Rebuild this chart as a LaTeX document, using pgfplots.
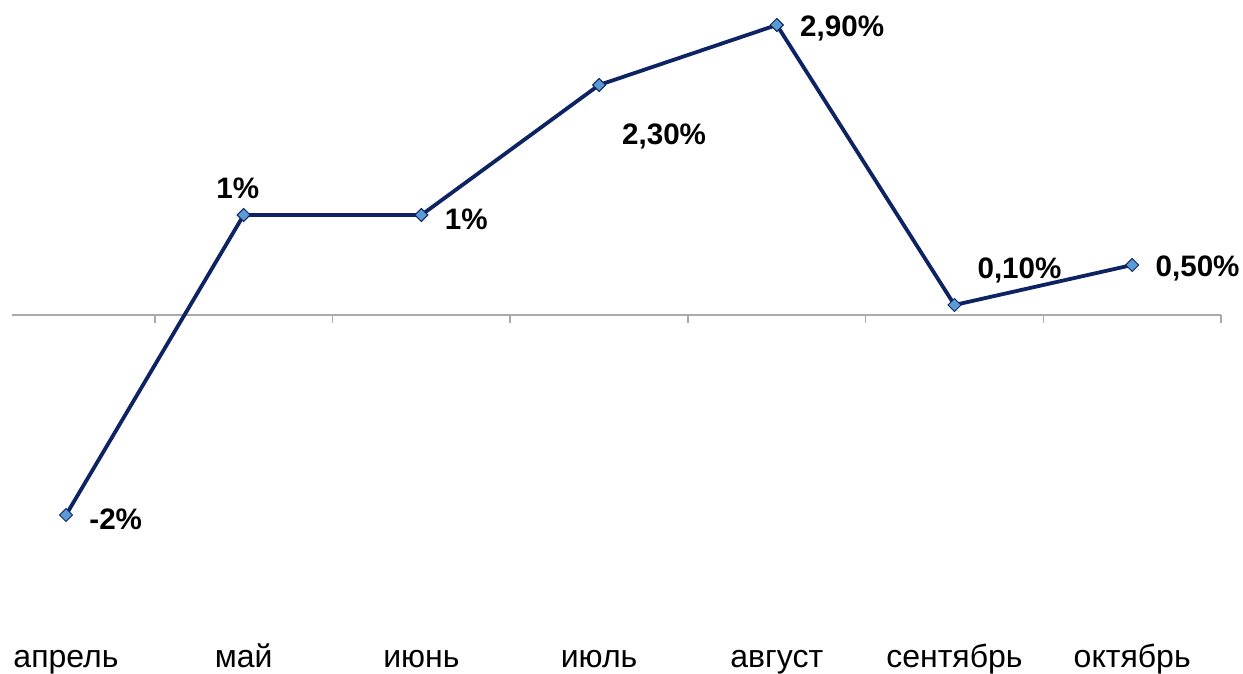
\documentclass[border=0pt]{standalone}
\usepackage{pgfplots}
\pgfplotsset{compat=1.18}
\usepackage{fontspec}
\setmainfont{Liberation Sans}
\definecolor{lineblue}{RGB}{14,36,98}
\definecolor{markfill}{RGB}{91,155,213}
\definecolor{axgray}{RGB}{170,170,170}
\begin{document}
\begin{tikzpicture}
\begin{axis}[
  scale only axis,
  width=621.5pt, height=337pt,
  xmin=-0.3714, xmax=6.6235,
  ymin=-3.59, ymax=3.15,
  hide axis,
  clip=false,
]
% zero line and ticks
\draw[axgray, line width=0.8pt] (axis cs:-0.304,0) -- (axis cs:6.5,0);
\pgfplotsinvokeforeach{0.5,1.5,2.5,3.5,4.5,5.5,6.5}{
  \draw[axgray, line width=0.8pt] (axis cs:#1,0) -- (axis cs:#1,-0.08);
}
\addplot[lineblue, line width=1.9pt, mark=square*, mark size=2.3pt,
  mark options={fill=markfill, draw=lineblue, line width=0.5pt, rotate=45}]
  coordinates {(0,-2) (1,1) (2,1) (3,2.3) (4,2.9) (5,0.1) (6,0.5)};
\coordinate (p0) at (axis cs:0,-2);
\coordinate (p1) at (axis cs:1,1);
\coordinate (p2) at (axis cs:2,1);
\coordinate (p3) at (axis cs:3,2.3);
\coordinate (p4) at (axis cs:4,2.9);
\coordinate (p5) at (axis cs:5,0.1);
\coordinate (p6) at (axis cs:6,0.5);
\coordinate (c0) at (axis cs:0,-3.43);
\coordinate (c1) at (axis cs:1,-3.43);
\coordinate (c2) at (axis cs:2,-3.43);
\coordinate (c3) at (axis cs:3,-3.43);
\coordinate (c4) at (axis cs:4,-3.43);
\coordinate (c5) at (axis cs:5,-3.43);
\coordinate (c6) at (axis cs:6,-3.43);
\end{axis}
% data labels
\begin{scope}[every node/.style={font=\fontsize{14.8}{16}\selectfont\bfseries, inner sep=0pt}]
\node[anchor=west] at ([xshift=11.5pt,yshift=-2pt]p0) {-2\%};
\node[anchor=south] at ([xshift=-3pt, yshift=8pt]p1) {1\%};
\node[anchor=west] at ([xshift=11.5pt,yshift=-2pt]p2) {1\%};
\node[anchor=center] at ([xshift=32.5pt,yshift=-25.5pt]p3) {2,30\%};
\node[anchor=west] at ([xshift=11.5pt,yshift=-1.5pt]p4) {2,90\%};
\node[anchor=center] at ([xshift=32.5pt,yshift=17.5pt]p5) {0,10\%};
\node[anchor=west] at ([xshift=11.5pt,yshift=-1.5pt]p6) {0,50\%};
\end{scope}
% category labels
\begin{scope}[every node/.style={font=\fontsize{16}{18}\selectfont, inner sep=0pt, anchor=base}]
\node at ([yshift=-5pt]c0) {апрель};
\node at ([yshift=-5pt]c1) {май};
\node at ([yshift=-5pt]c2) {июнь};
\node at ([yshift=-5pt]c3) {июль};
\node at ([yshift=-5pt]c4) {август};
\node at ([yshift=-5pt]c5) {сентябрь};
\node at ([yshift=-5pt]c6) {октябрь};
\end{scope}
\pgfresetboundingbox
\path (current axis.south west) rectangle (current axis.north east);
\end{tikzpicture}
\end{document}
